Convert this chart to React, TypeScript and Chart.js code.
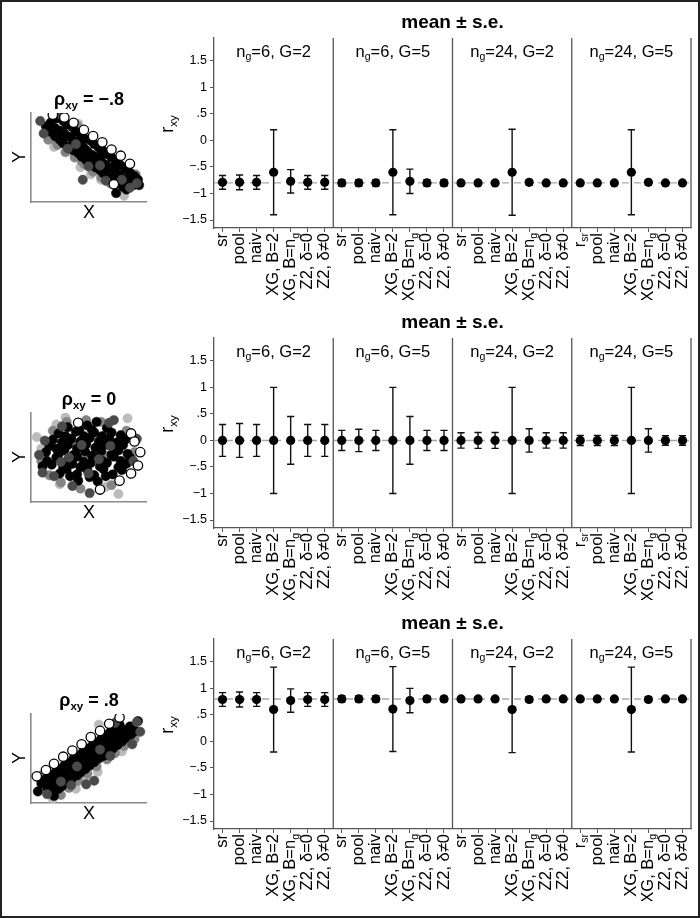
import React, { useEffect, useRef } from 'react';
import { Chart, registerables } from 'chart.js';

Chart.register(...registerables);

const FONT = '"Liberation Sans", Arial, Helvetica, sans-serif';

// ---------------- data ----------------
const categoryLabels = [
  'sr', 'pool', 'naiv', 'XG, B=2', 'XG, B=n_g', 'Z2, δ=0', 'Z2, δ≠0',
  'sr', 'pool', 'naiv', 'XG, B=2', 'XG, B=n_g', 'Z2, δ=0', 'Z2, δ≠0',
  'sr', 'pool', 'naiv', 'XG, B=2', 'XG, B=n_g', 'Z2, δ=0', 'Z2, δ≠0',
  'r_sr', 'pool', 'naiv', 'XG, B=2', 'XG, B=n_g', 'Z2, δ=0', 'Z2, δ≠0',
];
const panelTitles = ['n_g=6, G=2', 'n_g=6, G=5', 'n_g=24, G=2', 'n_g=24, G=5'];
const yTickValues = [1.5, 1, 0.5, 0, -0.5, -1, -1.5];
const rhoValues = [-0.8, 0, 0.8];
const rhoTitles = ['ρ_xy = −.8', 'ρ_xy = 0', 'ρ_xy = .8'];
const chartTitle = 'mean ± s.e.';
const yAxisTitle = 'r_xy';

// rho = -.8
const meanNeg = [
  -0.79, -0.79, -0.79, -0.60, -0.77, -0.79, -0.79,
  -0.80, -0.80, -0.80, -0.60, -0.77, -0.80, -0.80,
  -0.80, -0.80, -0.80, -0.60, -0.79, -0.80, -0.80,
  -0.80, -0.80, -0.80, -0.60, -0.79, -0.80, -0.80,
];
const seNeg = [
  0.13, 0.14, 0.13, 0.80, 0.22, 0.13, 0.13,
  0.06, 0.06, 0.06, 0.80, 0.23, 0.06, 0.06,
  0.03, 0.03, 0.03, 0.81, 0.05, 0.03, 0.03,
  0.015, 0.015, 0.015, 0.80, 0.05, 0.015, 0.015,
];
// rho = 0
const meanZero = [
  0, 0, 0, 0, 0, 0, 0,
  0, 0, 0, 0, 0, 0, 0,
  0, 0, 0, 0, 0, 0, 0,
  0, 0, 0, 0, 0, 0, 0,
];
const seZero = [
  0.30, 0.32, 0.30, 1.00, 0.45, 0.30, 0.30,
  0.19, 0.21, 0.19, 1.00, 0.45, 0.19, 0.19,
  0.145, 0.15, 0.15, 1.00, 0.22, 0.145, 0.145,
  0.095, 0.095, 0.095, 1.00, 0.22, 0.09, 0.09,
];
// rho = .8
const meanPos = [
  0.79, 0.79, 0.79, 0.60, 0.77, 0.79, 0.79,
  0.80, 0.80, 0.80, 0.61, 0.77, 0.80, 0.80,
  0.80, 0.80, 0.80, 0.60, 0.79, 0.80, 0.80,
  0.80, 0.80, 0.80, 0.60, 0.79, 0.80, 0.80,
];
const sePos = [
  0.13, 0.14, 0.13, 0.80, 0.22, 0.13, 0.13,
  0.06, 0.06, 0.06, 0.80, 0.23, 0.05, 0.05,
  0.03, 0.03, 0.03, 0.81, 0.05, 0.03, 0.03,
  0.015, 0.015, 0.015, 0.80, 0.05, 0.015, 0.015,
];

// scatter illustrations (X, Y on a 0..10 grid)
const blackNeg = [
  [1.7,8.9],[2.2,9.4],[1.3,8.5],[2.1,8.3],[2.8,9.1],[1.7,7.9],[2.5,8.0],[3.1,8.7],[2.1,7.4],
  [2.9,7.7],[3.6,8.4],[2.5,7.0],[3.4,7.3],[3.9,7.9],[2.8,6.6],[3.7,6.9],[4.4,7.6],[3.3,6.2],
  [4.1,6.5],[4.7,7.1],[3.7,5.8],[4.6,6.1],[5.2,6.9],[4.1,5.5],[4.9,5.7],[5.5,6.5],[4.4,5.1],
  [5.3,5.3],[5.9,6.1],[4.8,4.7],[5.7,5.0],[6.3,5.7],[5.2,4.3],[6.1,4.6],[6.6,5.4],[5.6,3.9],
  [6.5,4.2],[7.0,5.0],[6.0,3.6],[6.9,3.8],[7.4,4.5],[6.3,3.2],[7.3,3.4],[7.8,4.1],[6.8,2.8],
  [7.7,3.0],[8.2,3.7],[7.1,2.4],[8.1,2.6],[8.6,3.3],[7.6,2.1],[8.5,2.3],[9.0,2.9],[8.0,1.7],
  [8.9,1.9],[9.3,2.5],[7.4,1.0],[9.4,1.9],[8.3,1.4],[5.9,5.1],[4.2,6.9],[3.0,7.5],[7.1,3.9],
];
const darkNeg = [[0.8,9.1],[2.7,9.7],[1.1,7.7],[4.5,2.5],[5.0,4.0],[6.5,2.4],[8.6,1.6],[3.2,6.0],[9.2,2.1],[6.0,4.1],[3.9,6.5],[7.9,2.5]];
const grayNeg = [[1.5,7.0],[2.3,6.4],[3.0,5.6],[3.8,5.0],[4.6,4.3],[5.4,3.4],[6.1,2.8],[6.9,2.1],[8.8,2.8],[9.1,3.1],[4.0,8.6],[2.2,6.8],[4.4,4.6],[6.6,2.4]];
const lightNeg = [[4.1,8.8],[3.6,5.6],[5.2,3.1],[4.3,3.9],[8.1,0.7],[6.1,2.5],[2.0,6.2]];
const openNeg = [[1.9,9.8],[2.9,9.5],[3.7,8.9],[4.6,8.1],[5.4,7.4],[6.2,6.7],[7.0,5.9],[7.8,5.2],[8.6,4.3],[7.2,2.0]];

const blackZero = [
  [3.4,2.9],[4.1,2.4],[5.1,2.8],[5.8,2.3],[6.5,2.9],
  [2.5,3.2],[3.1,3.7],[4.0,3.1],[4.9,3.6],[5.5,3.0],[6.3,3.7],[7.1,3.1],[7.9,3.6],
  [1.8,4.2],[2.8,3.9],[3.6,4.3],[4.3,3.9],[5.2,4.4],[6.0,4.0],[6.6,4.4],[7.6,3.9],[8.3,4.3],
  [1.4,4.6],[2.2,5.0],[3.2,4.7],[4.0,5.1],[4.6,4.5],[5.6,5.0],[6.2,4.6],[7.2,5.1],[7.8,4.6],[8.6,5.0],
  [1.3,5.6],[2.4,5.4],[2.9,5.8],[3.7,5.3],[4.7,5.7],[5.3,5.2],[6.1,5.7],[7.0,5.3],[7.6,5.8],[8.4,5.4],
  [1.6,6.3],[2.2,6.0],[3.2,6.4],[4.0,6.0],[4.8,6.5],[5.6,6.1],[6.4,6.4],[7.2,6.0],[8.0,6.4],
  [1.9,7.0],[2.7,6.7],[3.5,7.1],[4.3,6.8],[5.1,7.2],[5.9,6.8],[6.8,7.1],[7.5,6.7],[8.2,7.0],
  [2.4,7.7],[3.0,7.4],[3.9,7.9],[4.6,7.4],[5.5,7.8],[6.2,7.4],[7.0,7.8],[7.8,7.5],
  [3.2,8.4],[4.2,8.1],[4.9,8.6],[5.7,9.0],[6.6,8.3],[1.0,4.0],[5.3,8.1],
];
const darkZero = [[0.7,5.3],[2.7,8.5],[7.2,9.2],[5.1,1.0],[9.2,7.1],[1.0,3.3],[3.6,1.8],[6.8,8.9],[8.9,4.6],[2.0,2.9],[1.2,6.9],[3.3,5.0],[5.9,4.8],[4.4,6.4],[6.9,6.3],[2.6,4.5],[5.0,3.2]];
const grayZero = [[1.9,8.0],[3.1,9.0],[4.8,9.2],[6.1,9.0],[9.0,5.6],[1.6,3.0],[4.3,1.5],[7.0,1.9],[2.6,2.2],[8.3,8.0],[0.9,4.6],[4.5,5.0],[6.7,5.2],[3.5,6.6]];
const lightZero = [[2.5,2.0],[6.5,1.7],[7.6,0.9],[0.9,6.0],[2.2,8.7],[8.4,9.4],[3.0,9.5],[0.5,7.3]];
const openZero = [[8.7,7.7],[9.0,6.8],[9.3,4.1],[8.7,3.2],[7.7,2.4],[6.0,1.4],[4.1,8.9],[9.5,5.6]];

const blackPos = [
  [1.4,1.7],[0.9,2.2],[1.9,1.2],[1.8,2.1],[1.3,2.7],[2.4,1.6],[2.2,2.5],[1.7,3.1],[2.7,1.9],
  [2.6,2.8],[2.1,3.4],[3.1,2.3],[3.0,3.2],[2.5,3.8],[3.5,2.6],[3.4,3.6],[2.9,4.2],[4.0,3.1],
  [3.8,4.0],[3.3,4.5],[4.3,3.4],[4.2,4.4],[3.7,5.0],[4.7,3.8],[4.6,4.8],[4.1,5.3],[5.1,4.2],
  [5.0,5.15],[4.5,5.7],[5.5,4.6],[5.4,5.5],[4.9,6.1],[5.9,5.0],[5.8,5.9],[5.3,6.4],[6.3,5.3],
  [6.2,6.3],[5.7,6.8],[6.7,5.7],[6.6,6.7],[6.1,7.2],[7.1,6.1],[7.0,7.1],[6.5,7.6],[7.5,6.5],
  [7.4,7.5],[6.9,8.0],[7.9,6.9],[7.8,7.85],[7.3,8.4],[8.3,7.3],[8.2,8.2],[7.7,8.8],[8.7,7.7],
  [8.6,8.6],[9.1,8.1],[9.3,9.2],[0.6,1.3],[2.0,0.8],[3.9,3.6],[5.8,5.4],[7.4,6.9],
];
const darkPos = [[9.2,9.1],[7.3,9.0],[8.8,6.6],[5.5,2.5],[4.8,2.1],[3.5,2.0],[1.4,1.0],[6.9,5.3],[9.5,8.0],[4.0,4.1],[6.0,6.0],[2.6,2.4]];
const grayPos = [[2.6,0.9],[3.3,1.7],[4.1,2.5],[4.9,3.3],[5.7,4.1],[6.6,4.9],[7.3,5.6],[8.1,6.4],[9.0,7.2],[0.9,3.1],[5.2,4.6],[7.7,7.3]];
const lightPos = [[5.9,8.8],[6.5,5.2],[4.8,3.0],[5.8,3.5],[1.9,0.5],[3.9,1.6],[7.9,5.8]];
const openPos = [[0.5,3.0],[1.3,3.7],[2.0,4.4],[2.8,5.2],[3.6,5.9],[4.4,6.6],[5.2,7.4],[6.0,8.1],[6.8,8.9],[7.7,9.6]];

const rows = [
  { mean: meanNeg, se: seNeg, black: blackNeg, dark: darkNeg, gray: grayNeg, light: lightNeg, open: openNeg },
  { mean: meanZero, se: seZero, black: blackZero, dark: darkZero, gray: grayZero, light: lightZero, open: openZero },
  { mean: meanPos, se: sePos, black: blackPos, dark: darkPos, gray: grayPos, light: lightPos, open: openPos },
];
const rowTops = [0, 300, 601];

// ---------------- helpers ----------------
type Seg = { t: string; sub: boolean };
function parseRich(s: string): Seg[] {
  const out: Seg[] = [];
  let buf = '';
  let i = 0;
  while (i < s.length) {
    if (s[i] === '_') {
      if (buf) out.push({ t: buf, sub: false });
      buf = '';
      i++;
      let sub = '';
      while (i < s.length && /[a-z]/.test(s[i])) { sub += s[i]; i++; }
      out.push({ t: sub, sub: true });
    } else {
      buf += s[i];
      i++;
    }
  }
  if (buf) out.push({ t: buf, sub: false });
  return out;
}

function drawRich(ctx: CanvasRenderingContext2D, s: string, x: number, y: number, size: number, weight: string, align: 'left' | 'center' | 'right') {
  const segs = parseRich(s);
  const fontFor = (sub: boolean) => `${weight} ${sub ? size * 0.64 : size}px ${FONT}`;
  let total = 0;
  const widths = segs.map((sg) => {
    ctx.font = fontFor(sg.sub);
    const w = ctx.measureText(sg.t).width;
    total += w;
    return w;
  });
  let cx = align === 'left' ? x : align === 'center' ? x - total / 2 : x - total;
  ctx.textAlign = 'left';
  ctx.textBaseline = 'middle';
  segs.forEach((sg, k) => {
    ctx.font = fontFor(sg.sub);
    ctx.fillText(sg.t, cx, y + (sg.sub ? size * 0.3 : 0));
    cx += widths[k];
  });
}

const fmtTick = (v: number) => {
  if (v === 0) return '0';
  const a = Math.abs(v);
  const s = Number.isInteger(a) ? String(a) : String(a).replace(/^0/, '');
  return (v < 0 ? '−' : '') + s;
};

// ---------------- chart configs ----------------
function makeMain(r: number): any {
  const row = rows[r];
  const rho = rhoValues[r];
  const deco = {
    id: 'mainDeco',
    beforeDatasetsDraw(chart: any) {
      const { ctx, chartArea: a, scales } = chart;
      const xs = scales.x;
      const ys = scales.y;
      ctx.save();
      const yy = ys.getPixelForValue(rho);
      ctx.strokeStyle = '#a8a8a8';
      ctx.lineWidth = 1.4;
      ctx.setLineDash([7, 5]);
      ctx.beginPath();
      ctx.moveTo(a.left, yy);
      ctx.lineTo(a.right, yy);
      ctx.stroke();
      ctx.setLineDash([]);
      ctx.strokeStyle = '#111';
      ctx.lineWidth = 1.4;
      row.mean.forEach((m: number, i: number) => {
        const px = xs.getPixelForValue(i);
        const t = ys.getPixelForValue(m + row.se[i]);
        const b = ys.getPixelForValue(m - row.se[i]);
        ctx.beginPath();
        ctx.moveTo(px, t); ctx.lineTo(px, b);
        ctx.moveTo(px - 3.6, t); ctx.lineTo(px + 3.6, t);
        ctx.moveTo(px - 3.6, b); ctx.lineTo(px + 3.6, b);
        ctx.stroke();
      });
      ctx.restore();
    },
    afterDraw(chart: any) {
      const { ctx, chartArea: a, scales } = chart;
      const xs = scales.x;
      ctx.save();
      ctx.strokeStyle = '#555';
      ctx.lineWidth = 1.3;
      ctx.beginPath();
      for (let k = 1; k < 4; k++) {
        const sx = (xs.getPixelForValue(7 * k - 1) + xs.getPixelForValue(7 * k)) / 2;
        ctx.moveTo(sx, a.top); ctx.lineTo(sx, a.bottom);
      }
      ctx.moveTo(a.right, a.top); ctx.lineTo(a.right, a.bottom);
      ctx.stroke();
      ctx.fillStyle = '#000';
      drawRich(ctx, chartTitle, (a.left + a.right) / 2, 22.5, 19, 'bold', 'center');
      for (let k = 0; k < 4; k++) {
        const l = k === 0 ? a.left : (xs.getPixelForValue(7 * k - 1) + xs.getPixelForValue(7 * k)) / 2;
        const rr = k === 3 ? a.right : (xs.getPixelForValue(7 * k + 6) + xs.getPixelForValue(7 * k + 7)) / 2;
        drawRich(ctx, panelTitles[k], (l + rr) / 2, a.top + 14, 16.5, 'normal', 'center');
      }
      ctx.save();
      ctx.translate(18, (a.top + a.bottom) / 2 - 9);
      ctx.rotate(-Math.PI / 2);
      drawRich(ctx, yAxisTitle, 0, 0, 18, 'normal', 'center');
      ctx.restore();
      categoryLabels.forEach((lab, i) => {
        const px = xs.getPixelForValue(i);
        ctx.save();
        ctx.translate(px, a.bottom + 5);
        ctx.rotate(-Math.PI / 2);
        drawRich(ctx, lab, 0, 0, 16.5, 'normal', 'right');
        ctx.restore();
      });
      ctx.restore();
    },
  };
  return {
    type: 'line',
    data: {
      labels: categoryLabels,
      datasets: [{
        data: row.mean,
        showLine: false,
        pointRadius: 4.6,
        pointHoverRadius: 4.6,
        pointBackgroundColor: '#000',
        pointBorderColor: '#000',
        pointBorderWidth: 0,
      }],
    },
    options: {
      animation: false,
      responsive: false,
      maintainAspectRatio: false,
      events: [],
      layout: { padding: { left: 0, right: 7, top: 38, bottom: 0 } },
      plugins: { legend: { display: false }, tooltip: { enabled: false }, title: { display: false } },
      scales: {
        x: {
          type: 'category',
          offset: true,
          ticks: { display: false },
          grid: { display: true, drawOnChartArea: false, drawTicks: true, tickLength: 4, color: '#555', lineWidth: 1 },
          border: { display: true, color: '#555', width: 1.3 },
          afterFit: (s: any) => { s.height = 72; },
        },
        y: {
          type: 'linear',
          min: -1.65,
          max: 1.93,
          afterBuildTicks: (s: any) => { s.ticks = yTickValues.map((v) => ({ value: v })); },
          ticks: { callback: (v: any) => fmtTick(Number(v)), font: { size: 12.5, family: FONT }, color: '#000', padding: 3 },
          grid: { display: true, drawOnChartArea: false, drawTicks: true, tickLength: 4, color: '#555', lineWidth: 1 },
          border: { display: true, color: '#555', width: 1.3 },
          afterFit: (s: any) => { s.width = 64; },
        },
      },
    },
    plugins: [deco],
  };
}

function makeScatter(r: number): any {
  const row = rows[r];
  const deco = {
    id: 'scatterDeco',
    afterDraw(chart: any) {
      const { ctx } = chart;
      ctx.save();
      ctx.fillStyle = '#000';
      drawRich(ctx, rhoTitles[r], 87, 40, 18, 'bold', 'center');
      drawRich(ctx, 'X', 87, 153, 18, 'normal', 'center');
      ctx.save();
      ctx.translate(18, 97);
      ctx.rotate(-Math.PI / 2);
      drawRich(ctx, 'Y', 0, 0, 18, 'normal', 'center');
      ctx.restore();
      ctx.restore();
    },
  };
  const pts = (arr: number[][]) => arr.map((p) => ({ x: p[0], y: p[1] }));
  const ds = (arr: number[][], fill: string, stroke: string, bw: number) => ({
    data: pts(arr),
    pointRadius: 4.7,
    pointHoverRadius: 4.7,
    pointBackgroundColor: fill,
    pointBorderColor: stroke,
    pointBorderWidth: bw,
    showLine: false,
  });
  return {
    type: 'scatter',
    data: {
      datasets: [
        ds(row.open, '#fff', '#000', 1.3),
        ds(row.dark, '#4a4a4a', '#4a4a4a', 0.5),
        ds(row.black, '#000', '#000', 0.5),
        ds(row.gray, '#848484', '#848484', 0.5),
        ds(row.light, '#bcbcbc', '#bcbcbc', 0.5),
      ],
    },
    options: {
      animation: false,
      responsive: false,
      maintainAspectRatio: false,
      events: [],
      layout: { padding: { left: 0, right: 5, top: 53, bottom: 0 } },
      plugins: { legend: { display: false }, tooltip: { enabled: false }, title: { display: false } },
      scales: {
        x: {
          type: 'linear', min: 0, max: 10,
          ticks: { display: false },
          grid: { display: false, drawTicks: false },
          border: { display: true, color: '#8a8a8a', width: 1.6 },
          afterFit: (s: any) => { s.height = 28; },
        },
        y: {
          type: 'linear', min: 0, max: 10,
          ticks: { display: false },
          grid: { display: false, drawTicks: false },
          border: { display: true, color: '#8a8a8a', width: 1.6 },
          afterFit: (s: any) => { s.width = 29; },
        },
      },
    },
    plugins: [deco],
  };
}

// ---------------- components ----------------
function ChartBox({ left, top, width, height, make }: { left: number; top: number; width: number; height: number; make: () => any }) {
  const ref = useRef<HTMLCanvasElement>(null);
  useEffect(() => {
    const chart = new Chart(ref.current as HTMLCanvasElement, make());
    return () => chart.destroy();
  }, []);
  return (
    <canvas
      ref={ref}
      width={width}
      height={height}
      style={{ position: 'absolute', left, top, width, height, display: 'block' }}
    />
  );
}

export default function App() {
  return (
    <div style={{ position: 'absolute', left: 0, top: 0, width: 700, height: 918, background: '#fff', overflow: 'hidden' }}>
      {rowTops.map((oy, r) => (
        <React.Fragment key={r}>
          <ChartBox left={2} top={oy + 60} width={150} height={170} make={() => makeScatter(r)} />
          <ChartBox left={150} top={oy} width={548} height={300} make={() => makeMain(r)} />
        </React.Fragment>
      ))}
      <div style={{ position: 'absolute', left: 0, top: 0, width: 700, height: 918, boxSizing: 'border-box', border: '2px solid #222', pointerEvents: 'none' }} />
    </div>
  );
}
